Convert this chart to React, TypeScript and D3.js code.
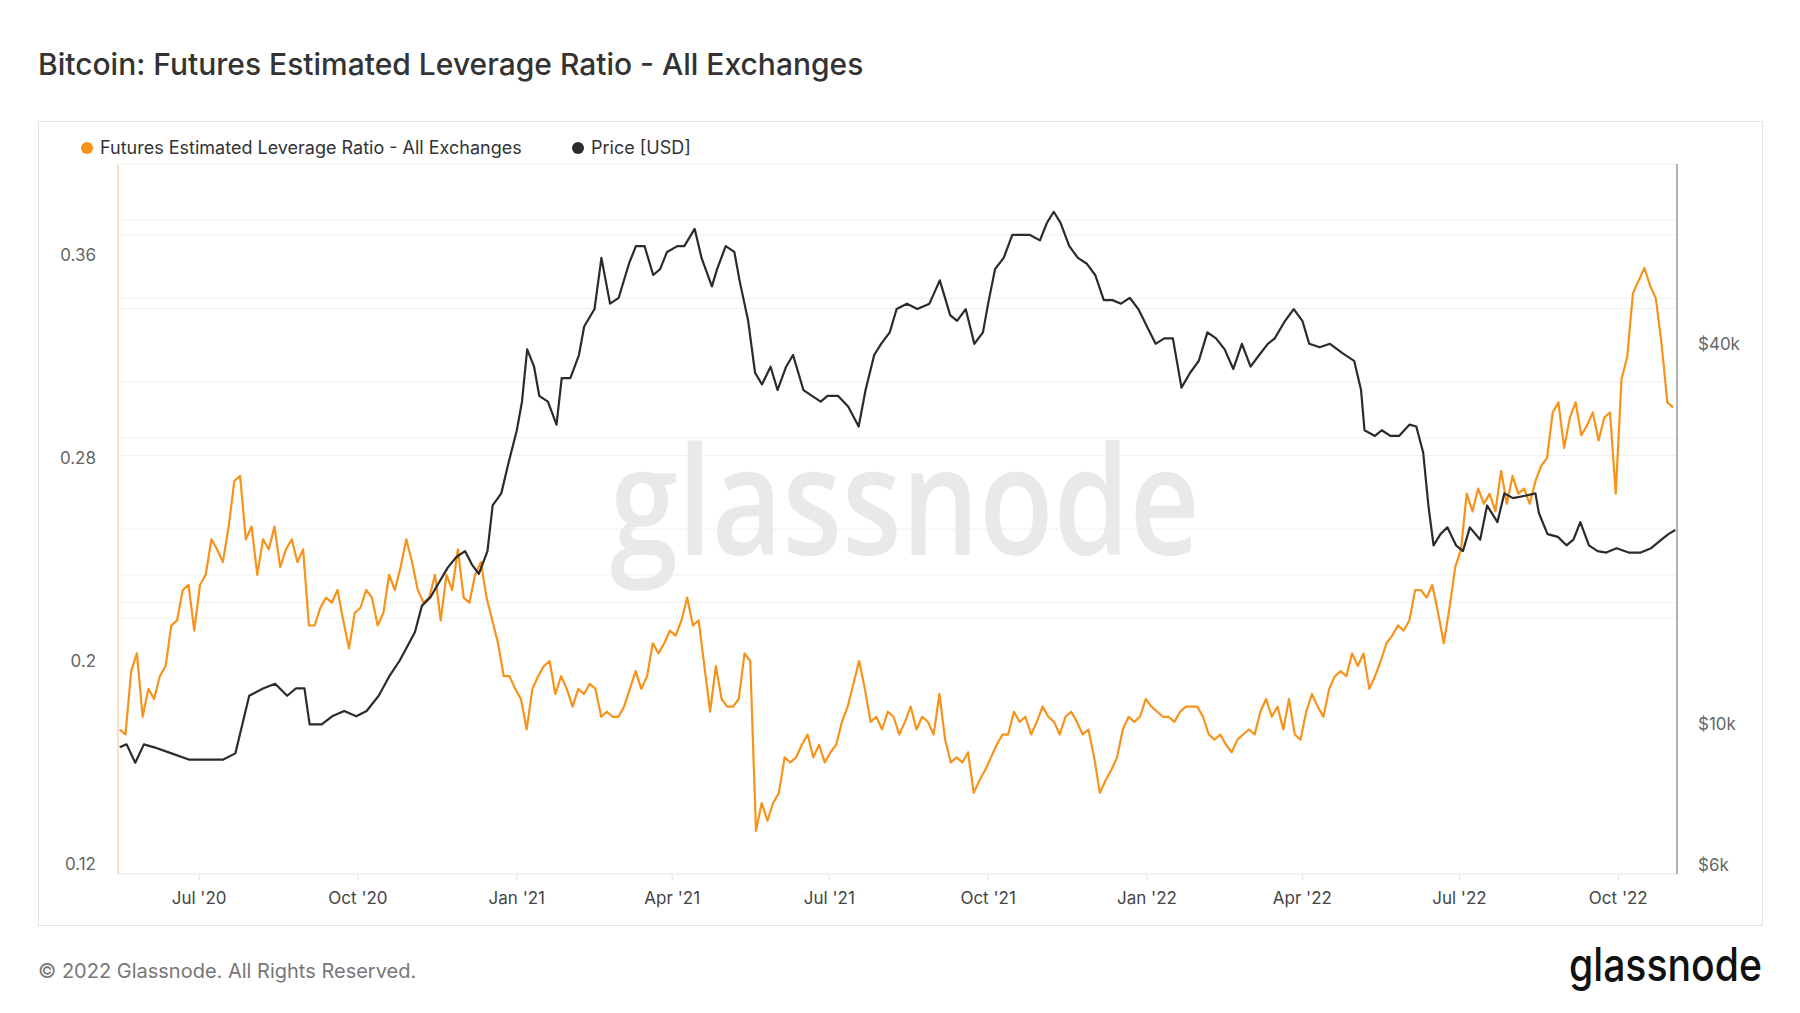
import React, { useRef, useEffect } from "react";
import * as d3 from "d3";

// Futures estimated leverage ratio, sampled every ~3.32 days from 2020-05-16
const levStart = new Date(2020, 4, 16);
const levStepDays = 3.32;
const leverage = [
  0.173, 0.171, 0.196, 0.203, 0.178, 0.189, 0.185, 0.194, 0.198, 0.214, 0.216, 0.228, 0.23, 0.212, 0.23, 0.234,
  0.248, 0.244, 0.239, 0.253, 0.271, 0.273, 0.248, 0.253, 0.234, 0.248, 0.244, 0.253, 0.237, 0.244, 0.248, 0.239,
  0.244, 0.214, 0.214, 0.221, 0.225, 0.223, 0.228, 0.216, 0.205, 0.219, 0.221, 0.228, 0.225, 0.214, 0.219, 0.234,
  0.228, 0.237, 0.248, 0.239, 0.228, 0.223, 0.225, 0.234, 0.216, 0.234, 0.228, 0.244, 0.225, 0.223, 0.234, 0.239,
  0.225, 0.216, 0.207, 0.194, 0.194, 0.189, 0.185, 0.173, 0.189, 0.194, 0.198, 0.2, 0.187, 0.194, 0.189, 0.182,
  0.189, 0.187, 0.191, 0.189, 0.178, 0.18, 0.178, 0.178, 0.182, 0.189, 0.196, 0.189, 0.194, 0.207, 0.203, 0.207,
  0.212, 0.21, 0.216, 0.225, 0.214, 0.216, 0.198, 0.18, 0.198, 0.185, 0.182, 0.182, 0.185, 0.203, 0.2, 0.133,
  0.144, 0.137, 0.144, 0.148, 0.162, 0.16, 0.162, 0.167, 0.171, 0.162, 0.167, 0.16, 0.164, 0.167, 0.176, 0.182,
  0.191, 0.2, 0.189, 0.176, 0.178, 0.173, 0.18, 0.178, 0.171, 0.176, 0.182, 0.173, 0.178, 0.176, 0.171, 0.187,
  0.169, 0.16, 0.162, 0.16, 0.164, 0.148, 0.153, 0.157, 0.162, 0.167, 0.171, 0.171, 0.18, 0.176, 0.178, 0.171,
  0.176, 0.182, 0.178, 0.176, 0.171, 0.178, 0.18, 0.176, 0.171, 0.173, 0.162, 0.148, 0.153, 0.157, 0.162, 0.173,
  0.178, 0.176, 0.178, 0.185, 0.182, 0.18, 0.178, 0.178, 0.176, 0.18, 0.182, 0.182, 0.182, 0.178, 0.171, 0.169,
  0.171, 0.167, 0.164, 0.169, 0.171, 0.173, 0.171, 0.18, 0.185, 0.178, 0.182, 0.173, 0.185, 0.171, 0.169, 0.18,
  0.187, 0.182, 0.178, 0.189, 0.194, 0.196, 0.194, 0.203, 0.198, 0.203, 0.189, 0.194, 0.2, 0.207, 0.21, 0.214,
  0.212, 0.216, 0.228, 0.228, 0.225, 0.23, 0.219, 0.207, 0.221, 0.237, 0.244, 0.266, 0.259, 0.268, 0.262, 0.266,
  0.259, 0.275, 0.262, 0.273, 0.266, 0.268, 0.262, 0.271, 0.277, 0.28, 0.298, 0.302, 0.284, 0.296, 0.302, 0.289,
  0.293, 0.298, 0.287, 0.296, 0.298, 0.266, 0.311, 0.32, 0.345, 0.35, 0.355, 0.348, 0.343, 0.325, 0.302, 0.3,
];

// BTC price: days since 2020-05-15 and USD
const priceStart = new Date(2020, 4, 15);
const priceDays = [
  1, 5, 10, 15, 21, 31, 41, 51, 61, 68, 72, 76, 84, 91, 98, 103, 108, 111, 118, 124, 131, 138, 144, 151, 157, 163,
  167, 172, 176, 181, 185, 191, 196, 201, 205, 209, 214, 217, 222, 226, 231, 234, 237, 241, 244, 249, 254, 257, 262,
  267, 270, 276, 280, 285, 290, 296, 300, 305, 310, 314, 318, 324, 328, 334, 338, 344, 347, 352, 357, 360, 365, 369,
  373, 378, 382, 387, 391, 397, 402, 407, 411, 417, 423, 429, 433, 438, 442, 447, 451, 457, 463, 470, 476, 482, 486,
  491, 496, 501, 504, 508, 513, 518, 523, 528, 534, 538, 542, 546, 551, 556, 561, 566, 571, 576, 581, 586, 591, 596,
  601, 606, 611, 616, 621, 626, 631, 636, 641, 646, 651, 656, 661, 666, 670, 676, 681, 686, 690, 696, 702, 709, 716,
  720, 722, 728, 732, 737, 742, 748, 752, 756, 759, 762, 766, 770, 775, 779, 783, 789, 793, 799, 803, 808, 815, 821,
  823, 828, 834, 839, 843, 847, 852, 857, 862, 868, 875, 882, 888, 894, 898, 902,
];
const prices = [
  9200, 9300, 8700, 9300, 9200, 9000, 8800, 8800, 8800, 9000, 10000, 11100, 11400, 11600, 11100, 11400, 11400, 10000,
  10000, 10300, 10500, 10300, 10500, 11100, 11900, 12600, 13200, 14000, 15400, 15900, 16600, 17700, 18400, 18800,
  17900, 17300, 18800, 22200, 23200, 25800, 29200, 32400, 39200, 36800, 33100, 32400, 29800, 35300, 35300, 38400,
  42600, 45400, 54700, 46300, 47300, 53600, 57100, 57100, 51400, 52500, 55900, 57100, 57100, 60800, 54700, 49300,
  52500, 57100, 55900, 50400, 43500, 36000, 34500, 36800, 33800, 36800, 38400, 33800, 33100, 32400, 33100, 33100,
  31800, 29600, 33800, 38400, 40000, 41700, 45400, 46300, 45400, 46300, 50400, 44400, 43500, 45400, 40000, 41700,
  46300, 52500, 54700, 59500, 59500, 59500, 58300, 62100, 64700, 62100, 57100, 54700, 53600, 51400, 46900, 46900,
  46300, 47300, 45400, 42600, 40000, 40800, 40800, 34100, 36000, 37600, 41700, 40800, 39200, 36500, 40000, 36800,
  38400, 40000, 40800, 43500, 45400, 43500, 40000, 39500, 40000, 38700, 37600, 33800, 29200, 28600, 29200, 28600,
  28600, 29800, 29600, 26900, 22200, 19200, 20000, 20500, 19200, 18800, 20500, 19600, 22200, 20900, 23200, 22800,
  23000, 23200, 21600, 20000, 19800, 19200, 19600, 20900, 19200, 18800, 18700, 19000, 18700, 18700, 19000, 19600,
  20000, 20300,
];

const levTicks = [0.12, 0.2, 0.28, 0.36];
const levGrid = [0.374, 0.368, 0.343, 0.339, 0.31, 0.288, 0.281, 0.252, 0.234, 0.223, 0.217];
const priceTicks = [6000, 10000, 40000];
const priceTickLabels = ["$6k", "$10k", "$40k"];
const monthTicks = [
  [new Date(2020, 6, 1), "Jul '20"],
  [new Date(2020, 9, 1), "Oct '20"],
  [new Date(2021, 0, 1), "Jan '21"],
  [new Date(2021, 3, 1), "Apr '21"],
  [new Date(2021, 6, 1), "Jul '21"],
  [new Date(2021, 9, 1), "Oct '21"],
  [new Date(2022, 0, 1), "Jan '22"],
  [new Date(2022, 3, 1), "Apr '22"],
  [new Date(2022, 6, 1), "Jul '22"],
  [new Date(2022, 9, 1), "Oct '22"],
] as [Date, string][];

const ORANGE = "#f7931a";
const DARK = "#2b2b2b";
const FONT = "Inter, 'Noto Sans', sans-serif";

export default function App() {
  const ref = useRef<SVGSVGElement | null>(null);
  const width = 1800, height = 1013;
  const plot = { left: 118, right: 1677, top: 164, bottom: 874 };

  useEffect(() => {
    const svg = d3.select(ref.current);
    svg.selectAll("*").remove();
    const day = 86400000;

    const x = d3.scaleTime()
      .domain([new Date(2020, 4, 15), new Date(2022, 10, 4)])
      .range([plot.left, plot.right]);
    const yL = d3.scaleLinear().domain([0.116, 0.396]).range([plot.bottom, plot.top]);
    const yR = d3.scaleLog().domain([5800, 77000]).range([plot.bottom, plot.top]);

    svg.append("rect").attr("width", width).attr("height", height).attr("fill", "#fff");

    svg.append("text").attr("x", 38).attr("y", 75).attr("font-family", FONT)
      .attr("font-size", 30).attr("font-weight", 500).attr("fill", "#333")
      .text("Bitcoin: Futures Estimated Leverage Ratio - All Exchanges");

    svg.append("rect").attr("x", 38.5).attr("y", 121.5).attr("width", 1724).attr("height", 804)
      .attr("fill", "none").attr("stroke", "#e3e3e3");

    // legend
    const lg = svg.append("g").attr("font-family", FONT).attr("font-size", 18).attr("fill", "#333");
    lg.append("circle").attr("cx", 87).attr("cy", 148).attr("r", 6).attr("fill", ORANGE);
    lg.append("text").attr("x", 100).attr("y", 154).text("Futures Estimated Leverage Ratio - All Exchanges");
    lg.append("circle").attr("cx", 578).attr("cy", 148).attr("r", 6).attr("fill", DARK);
    lg.append("text").attr("x", 591).attr("y", 154).text("Price [USD]");

    // grid
    svg.append("g").selectAll("line").data(levGrid).join("line")
      .attr("x1", plot.left).attr("x2", plot.right)
      .attr("y1", d => yL(d)).attr("y2", d => yL(d))
      .attr("stroke", "#f0f0f0");
    svg.append("line").attr("x1", plot.left).attr("x2", plot.right)
      .attr("y1", plot.top).attr("y2", plot.top).attr("stroke", "#ececec");
    svg.append("line").attr("x1", plot.left).attr("x2", plot.right)
      .attr("y1", plot.bottom).attr("y2", plot.bottom).attr("stroke", "#e3e3e3");

    // watermark
    svg.append("text").attr("x", 905).attr("y", 555).attr("text-anchor", "middle")
      .attr("font-family", "'Open Sans', Inter, sans-serif").attr("font-weight", 600).attr("font-size", 150)
      .attr("fill", "#e9e9e9").attr("textLength", 590).attr("lengthAdjust", "spacingAndGlyphs")
      .text("glassnode");

    // axis lines
    svg.append("line").attr("x1", plot.left).attr("x2", plot.left).attr("y1", plot.top).attr("y2", plot.bottom)
      .attr("stroke", "#fbd5a8").attr("stroke-width", 1.5);
    svg.append("line").attr("x1", plot.right).attr("x2", plot.right).attr("y1", plot.top).attr("y2", plot.bottom)
      .attr("stroke", "#999").attr("stroke-width", 1.5);

    // tick labels
    const tf = svg.append("g").attr("font-family", FONT).attr("font-size", 17).attr("fill", "#666");
    tf.selectAll(".lt").data(levTicks).join("text")
      .attr("x", 96).attr("y", d => yL(d) + 6).attr("text-anchor", "end").text(d => String(d));
    tf.selectAll(".rt").data(priceTicks).join("text")
      .attr("x", 1698).attr("y", d => yR(d) + 6).text((d, i) => priceTickLabels[i]);
    tf.selectAll(".xt").data(monthTicks).join("text")
      .attr("x", d => x(d[0])).attr("y", 904).attr("text-anchor", "middle").attr("fill", "#444")
      .text(d => d[1]);
    svg.append("g").selectAll("line").data(monthTicks).join("line")
      .attr("x1", d => x(d[0])).attr("x2", d => x(d[0]))
      .attr("y1", plot.bottom).attr("y2", plot.bottom + 6).attr("stroke", "#e3e3e3");

    // series
    const levData = leverage.map((v, i) => ({ t: new Date(levStart.getTime() + i * levStepDays * day), v }));
    const priceData = prices.map((v, i) => ({ t: new Date(priceStart.getTime() + priceDays[i] * day), v }));

    svg.append("path").datum(levData)
      .attr("fill", "none").attr("stroke", ORANGE).attr("stroke-width", 2.2).attr("stroke-linejoin", "round")
      .attr("d", d3.line<any>().x(d => x(d.t)).y(d => yL(d.v)));
    svg.append("path").datum(priceData)
      .attr("fill", "none").attr("stroke", DARK).attr("stroke-width", 2.2).attr("stroke-linejoin", "round")
      .attr("d", d3.line<any>().x(d => x(d.t)).y(d => yR(d.v)));

    // footer
    svg.append("text").attr("x", 38).attr("y", 978).attr("font-family", FONT).attr("font-size", 20)
      .attr("fill", "#777").text("© 2022 Glassnode. All Rights Reserved.");
    svg.append("text").attr("x", 1762).attr("y", 981).attr("text-anchor", "end")
      .attr("font-family", "Inter, sans-serif").attr("font-weight", 500).attr("font-size", 46)
      .attr("fill", "#111").attr("textLength", 193).attr("lengthAdjust", "spacingAndGlyphs").text("glassnode");
  }, []);

  return (
    <div style={{ position: "absolute", left: 0, top: 0 }}>
      <svg ref={ref} width={width} height={height} />
    </div>
  );
}
